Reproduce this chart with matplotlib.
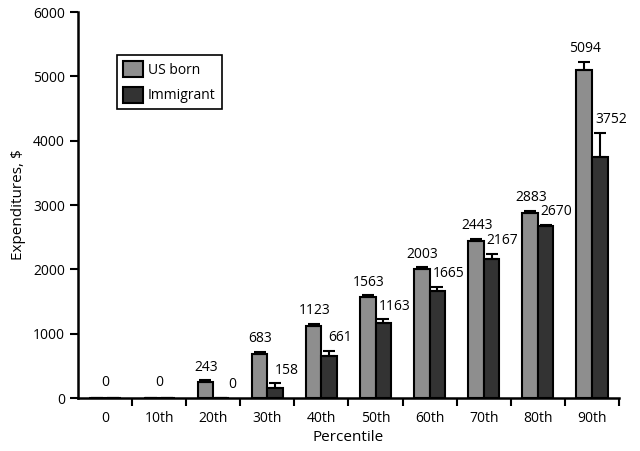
import numpy as np
import matplotlib
matplotlib.use("Agg")
import matplotlib.pyplot as plt
from matplotlib.ticker import FixedLocator

plt.rcParams['font.family'] = ['Open Sans', 'DejaVu Sans']

# data
percentiles = ["0", "10th", "20th", "30th", "40th", "50th", "60th", "70th", "80th", "90th"]
us_born = [0, 0, 243, 683, 1123, 1563, 2003, 2443, 2883, 5094]
immigrant = [0, 0, 0, 158, 661, 1163, 1665, 2167, 2670, 3752]
us_err = [0, 0, 30, 35, 35, 35, 30, 30, 30, 130]
imm_err = [0, 0, 0, 70, 75, 60, 65, 70, 25, 370]

x = np.arange(len(percentiles))
w = 0.29

fig = plt.figure(figsize=(6.4, 4.51), dpi=100)
ax = fig.add_axes([0.122, 0.1175, 0.845, 0.8555])

ax.bar(x - w / 2, us_born, w, color="#8e8e8e", edgecolor="black", linewidth=1.5,
       label="US born", zorder=2)
ax.bar(x + w / 2, immigrant, w, color="#333333", edgecolor="black", linewidth=1.5,
       label="Immigrant", zorder=2)
ax.errorbar(x - w / 2, us_born, yerr=[np.zeros(len(x)), us_err], fmt="none",
            ecolor="black", elinewidth=1.5, capsize=4, capthick=1.5, zorder=3)
ax.errorbar(x + w / 2, immigrant, yerr=[np.zeros(len(x)), imm_err], fmt="none",
            ecolor="black", elinewidth=1.5, capsize=4, capthick=1.5, zorder=3)

fs = 10
for i in range(len(x)):
    if us_born[i] == 0 and immigrant[i] == 0:
        # both zero: one label over the group
        ax.annotate("0", (x[i], 0), xytext=(0, 11.5), textcoords="offset points",
                    ha="center", va="center", fontsize=fs)
        continue
    ax.annotate(str(us_born[i]), (x[i] - w / 2, us_born[i] + us_err[i]),
                xytext=(0.7, 9.5), textcoords="offset points", ha="center", va="center",
                fontsize=fs)
    ax.annotate(str(immigrant[i]), (x[i] + w / 2, immigrant[i] + imm_err[i]),
                xytext=(8, 9.5), textcoords="offset points", ha="center", va="center",
                fontsize=fs)

ax.set_xlim(-0.5, 9.5)
ax.set_ylim(0, 6000)
ax.set_yticks(range(0, 6001, 1000))
ax.set_xticks(x)
ax.set_xticklabels(percentiles)
ax.xaxis.set_minor_locator(FixedLocator(np.arange(0.5, 10, 1)))
ax.tick_params(axis="x", which="major", length=0, pad=9, labelsize=fs)
ax.tick_params(axis="x", which="minor", length=6, width=1.5, direction="out")
ax.tick_params(axis="y", length=6, width=1.5, direction="out", labelsize=fs)

for s in ["top", "right"]:
    ax.spines[s].set_visible(False)
for s in ["left", "bottom"]:
    ax.spines[s].set_linewidth(1.8)

ax.set_xlabel("Percentile", fontsize=11, labelpad=3)
ax.set_ylabel("Expenditures, $", fontsize=11, labelpad=5)

leg = ax.legend(loc="upper left", bbox_to_anchor=(0.072, 0.89), fontsize=fs,
                fancybox=False, edgecolor="black", framealpha=1,
                handlelength=1.4, handleheight=1.4, borderpad=0.45, labelspacing=0.65,
                handletextpad=0.35, borderaxespad=0)
leg.get_frame().set_linewidth(1.2)

fig.savefig("out.png", dpi=100)
